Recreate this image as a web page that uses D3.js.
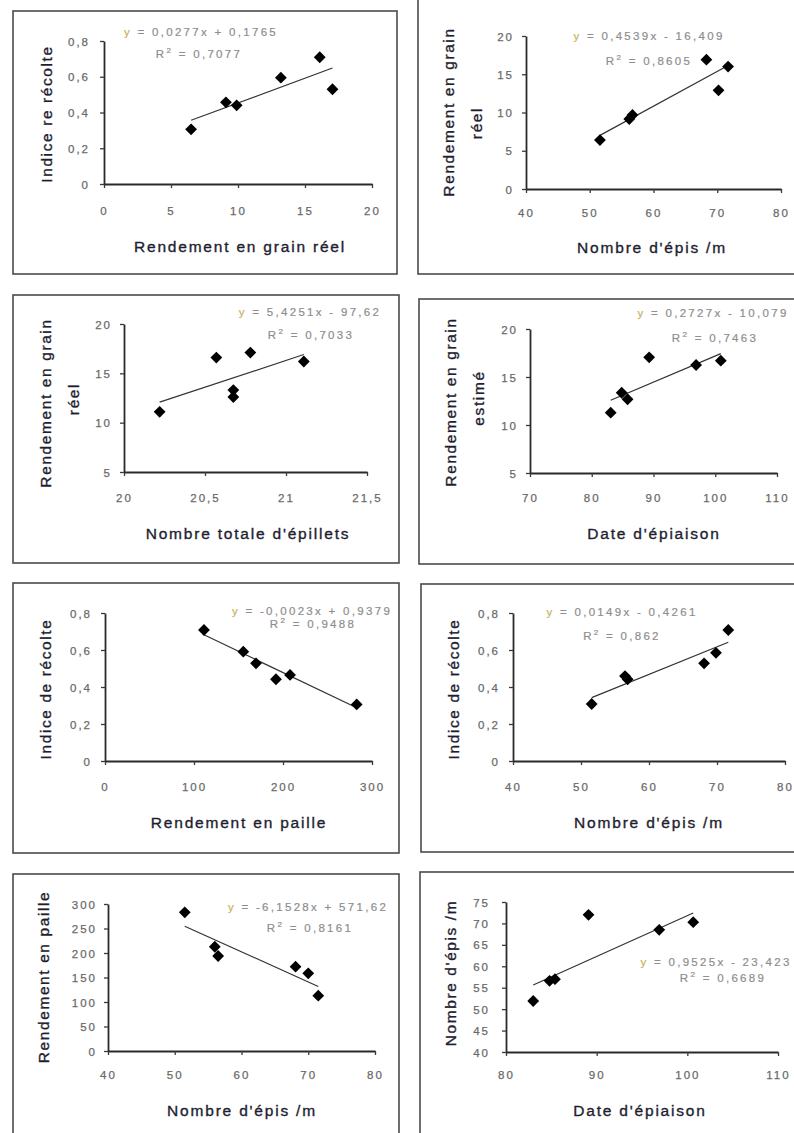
<!DOCTYPE html>
<meta charset="utf-8">
<html>
<head>
<script src="https://d3js.org/d3.v7.min.js"></script>
<style>
  body { margin: 0; background: #fff; }
  text { font-family: "Liberation Sans", Arial, sans-serif; }
</style>
</head>
<body>
<div id="viz"></div>
<script>
// ---- data ----
const xTitles = ["Rendement en grain réel", "Nombre d'épis /m", "Nombre totale d'épillets", "Date d'épiaison",
                 "Rendement en paille", "Nombre d'épis /m", "Nombre d'épis /m", "Date d'épiaison"];
const yTitles = [["Indice re récolte"], ["Rendement en grain", "réel"], ["Rendement en grain", "réel"],
                 ["Rendement en grain", "estimé"], ["Indice de récolte"], ["Indice de récolte"],
                 ["Rendement en paille"], ["Nombre d'épis /m"]];

const xDomains = [[0, 20], [40, 80], [20, 21.5], [70, 110], [0, 300], [40, 80], [40, 80], [80, 110]];
const yDomains = [[0, 0.8], [0, 20], [5, 20], [5, 20], [0, 0.8], [0, 0.8], [0, 300], [40, 75]];
const xTickValues = [[0, 5, 10, 15, 20], [40, 50, 60, 70, 80], [20, 20.5, 21, 21.5], [70, 80, 90, 100, 110],
                     [0, 100, 200, 300], [40, 50, 60, 70, 80], [40, 50, 60, 70, 80], [80, 90, 100, 110]];
const yTickValues = [[0, 0.2, 0.4, 0.6, 0.8], [0, 5, 10, 15, 20], [5, 10, 15, 20], [5, 10, 15, 20],
                     [0, 0.2, 0.4, 0.6, 0.8], [0, 0.2, 0.4, 0.6, 0.8], [0, 50, 100, 150, 200, 250, 300],
                     [40, 45, 50, 55, 60, 65, 70, 75]];

const p1X = [6.5, 9.1, 9.9, 13.2, 16.1, 17.05];
const p1Y = [0.306, 0.457, 0.44, 0.595, 0.709, 0.53];
const p2X = [51.6, 56.2, 56.7, 68.3, 70.2, 71.7];
const p2Y = [6.4, 9.15, 9.67, 16.9, 12.9, 16.0];
const p3X = [20.22, 20.57, 20.675, 20.675, 20.78, 21.11];
const p3Y = [11.1, 16.6, 13.3, 12.6, 17.1, 16.2];
const p4X = [83.07, 84.85, 85.8, 89.3, 96.9, 100.9];
const p4Y = [11.28, 13.36, 12.68, 17.05, 16.25, 16.7];
const p5X = [111.2, 155.4, 169.7, 192.1, 207.9, 282.8];
const p5Y = [0.708, 0.591, 0.528, 0.442, 0.465, 0.306];
const p6X = [51.57, 56.47, 56.86, 68.1, 69.85, 71.66];
const p6Y = [0.308, 0.459, 0.442, 0.528, 0.585, 0.708];
const p7X = [51.5, 56.0, 56.5, 68.1, 70.0, 71.5];
const p7Y = [283, 212.8, 193.9, 172, 158.5, 112.9];
const p8X = [83.0, 84.8, 85.4, 89.1, 96.9, 100.65];
const p8Y = [51.9, 56.6, 57.0, 72.0, 68.5, 70.3];

const slopes = [0.0277, 0.4539, 5.4251, 0.2727, -0.0023, 0.0149, -6.1528, 0.9525];
const intercepts = [0.1765, -16.409, -97.62, -10.079, 0.9379, -0.4261, 571.62, -23.423];
const equations = ["= 0,0277x + 0,1765", "= 0,4539x - 16,409", "= 5,4251x - 97,62", "= 0,2727x - 10,079",
                   "= -0,0023x + 0,9379", "= 0,0149x - 0,4261", "= -6,1528x + 571,62", "= 0,9525x - 23,423"];
const r2Values = ["0,7077", "0,8605", "0,7033", "0,7463", "0,9488", "0,862", "0,8161", "0,6689"];

const xs = [p1X, p2X, p3X, p4X, p5X, p6X, p7X, p8X];
const ys = [p1Y, p2Y, p3Y, p4Y, p5Y, p6Y, p7Y, p8Y];

// ---- layout (pixels) ----
// box: panel frame, plot: [left, top, right, bottom] of the axes
const layout = [
  {box: [13, 11, 397, 274],  plot: [104, 41, 372, 184],  xl: 27, yl: 14, xt: [240, 246],  yt: [46, 114],  yt2: 0,  eq: [201, 32],  r2: [199, 54]},
  {box: [418, -5, 800, 274], plot: [526, 36, 781, 189],  xl: 24, yl: 12, xt: [652, 247],  yt: [448, 112], yt2: 11, eq: [649, 36],  r2: [649, 61]},
  {box: [13, 295, 399, 563], plot: [124, 324, 367, 472], xl: 26, yl: 12, xt: [248, 533],  yt: [45, 403],  yt2: -4, eq: [310, 312], r2: [311, 335]},
  {box: [419, 299, 800, 564], plot: [530, 329, 777, 473], xl: 25, yl: 12, xt: [654, 533], yt: [450, 402], yt2: -4, eq: [713, 313], r2: [715, 338]},
  {box: [13, 583, 399, 853], plot: [105, 613, 372, 761], xl: 26, yl: 13, xt: [239, 822],  yt: [45, 689],  yt2: 0,  eq: [312, 611], r2: [313, 624]},
  {box: [421, 584, 800, 852], plot: [513, 613, 785, 761], xl: 26, yl: 13, xt: [649, 822], yt: [453, 689], yt2: 0,  eq: [622, 612], r2: [622, 636]},
  {box: [13, 874, 399, 1140], plot: [108, 904, 375, 1051], xl: 24, yl: 11, xt: [242, 1110], yt: [43, 977], yt2: 0, eq: [308, 907], r2: [310, 928]},
  {box: [420, 872, 800, 1140], plot: [506, 902, 778, 1052], xl: 23, yl: 16, xt: [640, 1110], yt: [450, 973], yt2: 0, eq: [716, 962], r2: [723, 978]}
];

const W = 794, H = 1133;
const svg = d3.select("#viz").append("svg")
  .attr("width", W).attr("height", H)
  .style("background-color", "#fff");

const fmt = d => String(d).replace(".", ",");
const diamond = r => `M0,${-r}L${r},0L0,${r}L${-r},0Z`;

layout.forEach((L, i) => {
  const g = svg.append("g");

  g.append("rect")
    .attr("x", L.box[0]).attr("y", L.box[1])
    .attr("width", L.box[2] - L.box[0]).attr("height", L.box[3] - L.box[1])
    .attr("fill", "none").attr("stroke", "#4a4a4a").attr("stroke-width", 1.6);

  const x = d3.scaleLinear().domain(xDomains[i]).range([L.plot[0], L.plot[2]]);
  const y = d3.scaleLinear().domain(yDomains[i]).range([L.plot[3], L.plot[1]]);

  const xAxis = g.append("g")
    .attr("transform", `translate(0,${L.plot[3]})`)
    .call(d3.axisBottom(x).tickValues(xTickValues[i]).tickFormat(fmt).tickSize(4).tickSizeOuter(0));
  const yAxis = g.append("g")
    .attr("transform", `translate(${L.plot[0]},0)`)
    .call(d3.axisLeft(y).tickValues(yTickValues[i]).tickFormat(fmt).tickSize(4).tickSizeOuter(0));

  [xAxis, yAxis].forEach(a => {
    a.attr("font-family", null).attr("font-size", null);
    a.select(".domain").attr("stroke", "#2a2a2a").attr("stroke-width", 1.8);
    a.selectAll(".tick line").attr("stroke", "#3a3a3a").attr("stroke-width", 1.3);
    a.selectAll(".tick text")
      .attr("fill", "#6a6a6a")
      .attr("stroke", "#6a6a6a").attr("stroke-width", 0.25)
      .style("font-size", "11.5px")
      .style("letter-spacing", "2px")
      .attr("dy", null)
      .attr("dominant-baseline", "central");
  });
  xAxis.selectAll(".tick text").attr("y", L.xl);
  yAxis.selectAll(".tick text").attr("x", -L.yl);

  // trend line from the fitted equation
  const x0 = d3.min(xs[i]), x1 = d3.max(xs[i]);
  const trend = d3.line().x(d => x(d)).y(d => y(slopes[i] * d + intercepts[i]));
  g.append("path")
    .attr("d", trend([x0, x1]))
    .attr("fill", "none").attr("stroke", "#333").attr("stroke-width", 1.2);

  // points
  g.selectAll(".pt")
    .data(xs[i].map((v, k) => [v, ys[i][k]]))
    .join("path")
    .attr("class", "pt")
    .attr("transform", d => `translate(${x(d[0])},${y(d[1])})`)
    .attr("d", diamond(5.9))
    .attr("fill", "#000");

  // axis titles
  g.append("text")
    .attr("x", L.xt[0]).attr("y", L.xt[1])
    .attr("text-anchor", "middle").attr("dominant-baseline", "central")
    .attr("fill", "#1e1e30").attr("stroke", "#1e1e30").attr("stroke-width", 0.35)
    .style("font-size", "15.5px").style("letter-spacing", "1.8px")
    .text(xTitles[i]);

  yTitles[i].forEach((t, k) => {
    g.append("text")
      .attr("transform", `translate(${L.yt[0] + k * 28},${L.yt[1] + (k ? L.yt2 : 0)}) rotate(-90)`)
      .attr("text-anchor", "middle").attr("dominant-baseline", "central")
      .attr("fill", "#1e1e30").attr("stroke", "#1e1e30").attr("stroke-width", 0.35)
      .style("font-size", "15.5px").style("letter-spacing", "1.6px")
      .text(t);
  });

  // equation and R²
  const eq = g.append("text")
    .attr("x", L.eq[0]).attr("y", L.eq[1])
    .attr("text-anchor", "middle").attr("dominant-baseline", "central")
    .attr("fill", "#8e8e8e").attr("stroke", "#8e8e8e").attr("stroke-width", 0.2)
    .style("font-size", "11.5px").style("letter-spacing", "2.3px");
  eq.append("tspan").attr("fill", "#c8b25a").attr("stroke", "#c8b25a").text("y ");
  eq.append("tspan").text(equations[i]);

  const r2 = g.append("text")
    .attr("x", L.r2[0]).attr("y", L.r2[1])
    .attr("text-anchor", "middle").attr("dominant-baseline", "central")
    .attr("fill", "#8e8e8e").attr("stroke", "#8e8e8e").attr("stroke-width", 0.2)
    .style("font-size", "11.5px").style("letter-spacing", "2.3px");
  r2.append("tspan").text("R");
  r2.append("tspan").attr("dy", -4).style("font-size", "8px").text("2");
  r2.append("tspan").attr("dy", 4).text(" = " + r2Values[i]);
});
</script>
</body>
</html>
